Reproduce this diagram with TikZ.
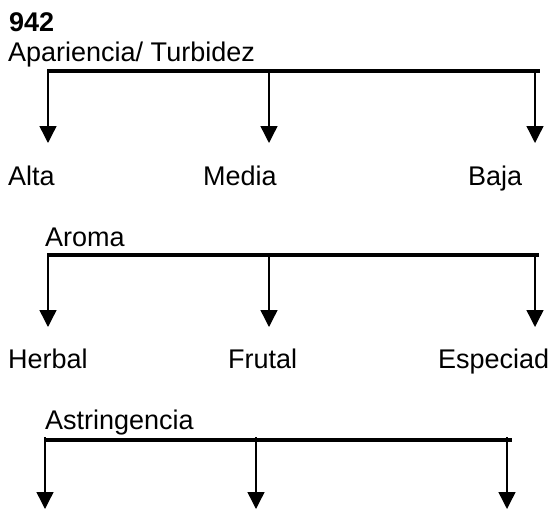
\documentclass[tikz,border=0pt]{standalone}
\usepackage{fontspec}
\setmainfont{Liberation Sans}
\usetikzlibrary{arrows.meta}
\tikzset{
  lbl/.style={anchor=base west, inner sep=0pt, font=\fontsize{27}{31}\selectfont},
  bar/.style={line width=4.5pt},
  down/.style={line width=1.4pt, -{Triangle[width=17pt,length=17pt]}}
}
\begin{document}
\begin{tikzpicture}[x=1pt,y=-1pt]
\useasboundingbox (0,0) rectangle (551,511);

% header
\node[lbl, font=\fontsize{27}{31}\selectfont\bfseries] (code) at (9,32) {942};

% block 1: appearance / turbidity
\node[lbl] (t1) at (8,61) {Apariencia/ Turbidez};
\coordinate (b1l) at (48,71);
\coordinate (b1r) at (540,71);
\draw[bar] (b1l) -- (b1r);
\coordinate (s1a) at (48,69);  \coordinate (e1a) at (48,143);
\coordinate (s1b) at (269,69); \coordinate (e1b) at (269,143);
\coordinate (s1c) at (535,69); \coordinate (e1c) at (535,143);
\draw[down] (s1a) -- (e1a);
\draw[down] (s1b) -- (e1b);
\draw[down] (s1c) -- (e1c);
\node[lbl] (alta) at (8,185) {Alta};
\node[lbl] (media) at (203,185) {Media};
\node[lbl] (baja) at (468,185) {Baja};

% block 2: aroma
\node[lbl] (t2) at (45,246) {Aroma};
\coordinate (b2l) at (48,255);
\coordinate (b2r) at (539,255);
\draw[bar] (b2l) -- (b2r);
\coordinate (s2a) at (48,253);  \coordinate (e2a) at (48,327);
\coordinate (s2b) at (269,253); \coordinate (e2b) at (269,327);
\coordinate (s2c) at (535,253); \coordinate (e2c) at (535,327);
\draw[down] (s2a) -- (e2a);
\draw[down] (s2b) -- (e2b);
\draw[down] (s2c) -- (e2c);
\node[lbl] (herbal) at (8,368) {Herbal};
\node[lbl] (frutal) at (228,368) {Frutal};
\node[lbl] (especiad) at (438,368) {Especiad};

% block 3: astringency
\node[lbl] (t3) at (45,429) {Astringencia};
\coordinate (b3l) at (46,440);
\coordinate (b3r) at (512,440);
\draw[bar] (b3l) -- (b3r);
\coordinate (s3a) at (45,437);  \coordinate (e3a) at (45,509);
\coordinate (s3b) at (256,437); \coordinate (e3b) at (256,509);
\coordinate (s3c) at (507,437); \coordinate (e3c) at (507,509);
\draw[down] (s3a) -- (e3a);
\draw[down] (s3b) -- (e3b);
\draw[down] (s3c) -- (e3c);
\end{tikzpicture}
\end{document}
